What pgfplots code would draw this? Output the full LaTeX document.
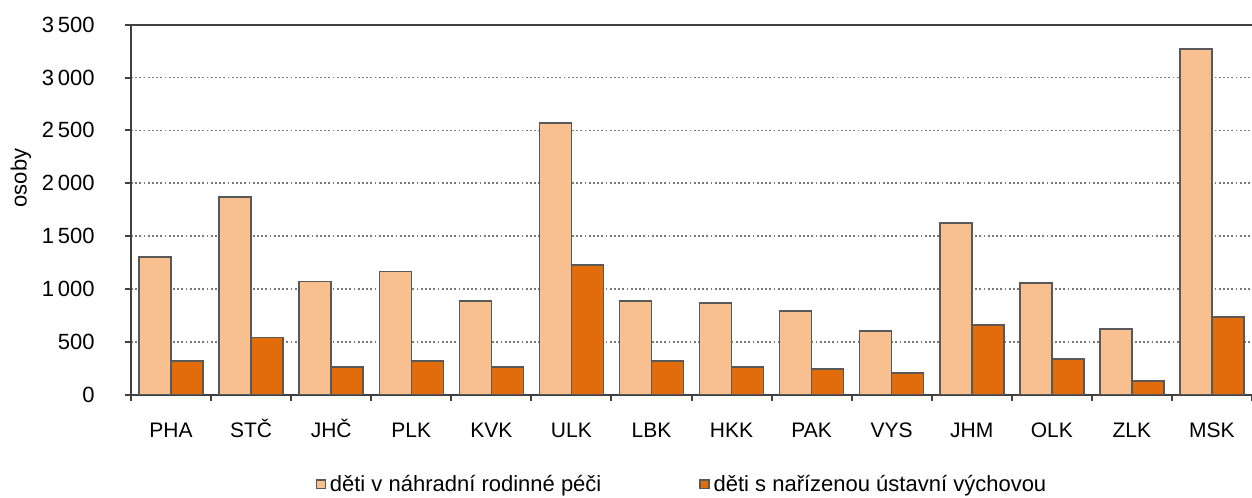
\documentclass[border=0pt]{standalone}
\usepackage{fontspec}
\setmainfont{Liberation Sans}
\usepackage{pgfplots}
\pgfplotsset{compat=1.18}
\definecolor{svetla}{HTML}{F9C08F}
\definecolor{tmava}{HTML}{E36C0A}
\definecolor{obrys}{HTML}{595959}
\definecolor{osa}{HTML}{404040}
\definecolor{mriz}{HTML}{7A7A7A}

\begin{document}
\begin{tikzpicture}
\path[use as bounding box] (-65.5pt,-51.35pt) rectangle (560.5pt,197.35pt);
\begin{axis}[
    at={(0pt,0pt)}, anchor=south west,
    scale only axis, width=560.5pt, height=185pt,
    ybar=0pt, bar width=16pt,
    xmin=-0.5, xmax=13.5, ymin=0, ymax=3500,
    xtick={0,...,13},
    xticklabels={PHA,STČ,JHČ,PLK,KVK,ULK,LBK,HKK,PAK,VYS,JHM,OLK,ZLK,MSK},
    minor xtick={-0.5,0.5,...,13.5},
    major x tick style={draw=none},
    ytick={0,500,...,3500},
    tick align=outside,
    major tick length=3pt, minor tick length=3pt,
    tick style={osa, line width=1pt},
    axis x line*=bottom, axis y line*=left,
    axis line style={osa, line width=1.1pt, -},
    ymajorgrids,
    grid style={mriz, line width=0.8pt, dash pattern=on 0.9pt off 1.2pt},
    /pgf/number format/.cd, 1000 sep={\,}, assume math mode=true, /pgfplots/.cd,
    yticklabel style={font=\fontsize{11}{13}\selectfont, anchor=east, inner sep=0pt, xshift=-15pt},
    xticklabel style={font=\fontsize{10.5}{12}\selectfont, anchor=base, inner sep=0pt, yshift=-18.6pt},
    ylabel={osoby},
    every axis y label/.style={at={(rel axis cs:-0.0981,0.586)}, rotate=90, anchor=center, font=\fontsize{11}{13}\selectfont},
    legend columns=2,
    legend style={draw=none, fill=none, at={(0.4924,-0.2425)}, anchor=center,
        font=\fontsize{11}{13}\selectfont,
        /tikz/every even column/.append style={column sep=47pt}},
    legend image code/.code={\draw[#1, line width=0.6pt] (0pt,-2.2pt) rectangle (4.5pt,2.2pt);},
]
\addplot[fill=svetla, draw=obrys, line width=0.75pt] coordinates {
    (0,1302) (1,1869) (2,1072) (3,1166) (4,885) (5,2569) (6,885)
    (7,867) (8,791) (9,602) (10,1623) (11,1056) (12,621) (13,3269)};
\addplot[fill=tmava, draw=obrys, line width=0.75pt] coordinates {
    (0,318) (1,542) (2,261) (3,318) (4,261) (5,1226) (6,318)
    (7,261) (8,242) (9,204) (10,658) (11,337) (12,129) (13,734)};
\legend{děti v náhradní rodinné péči, děti s nařízenou ústavní výchovou}
\draw[osa, line width=1.1pt] (rel axis cs:0,1) -- (rel axis cs:1,1);
\end{axis}
\end{tikzpicture}
\end{document}
